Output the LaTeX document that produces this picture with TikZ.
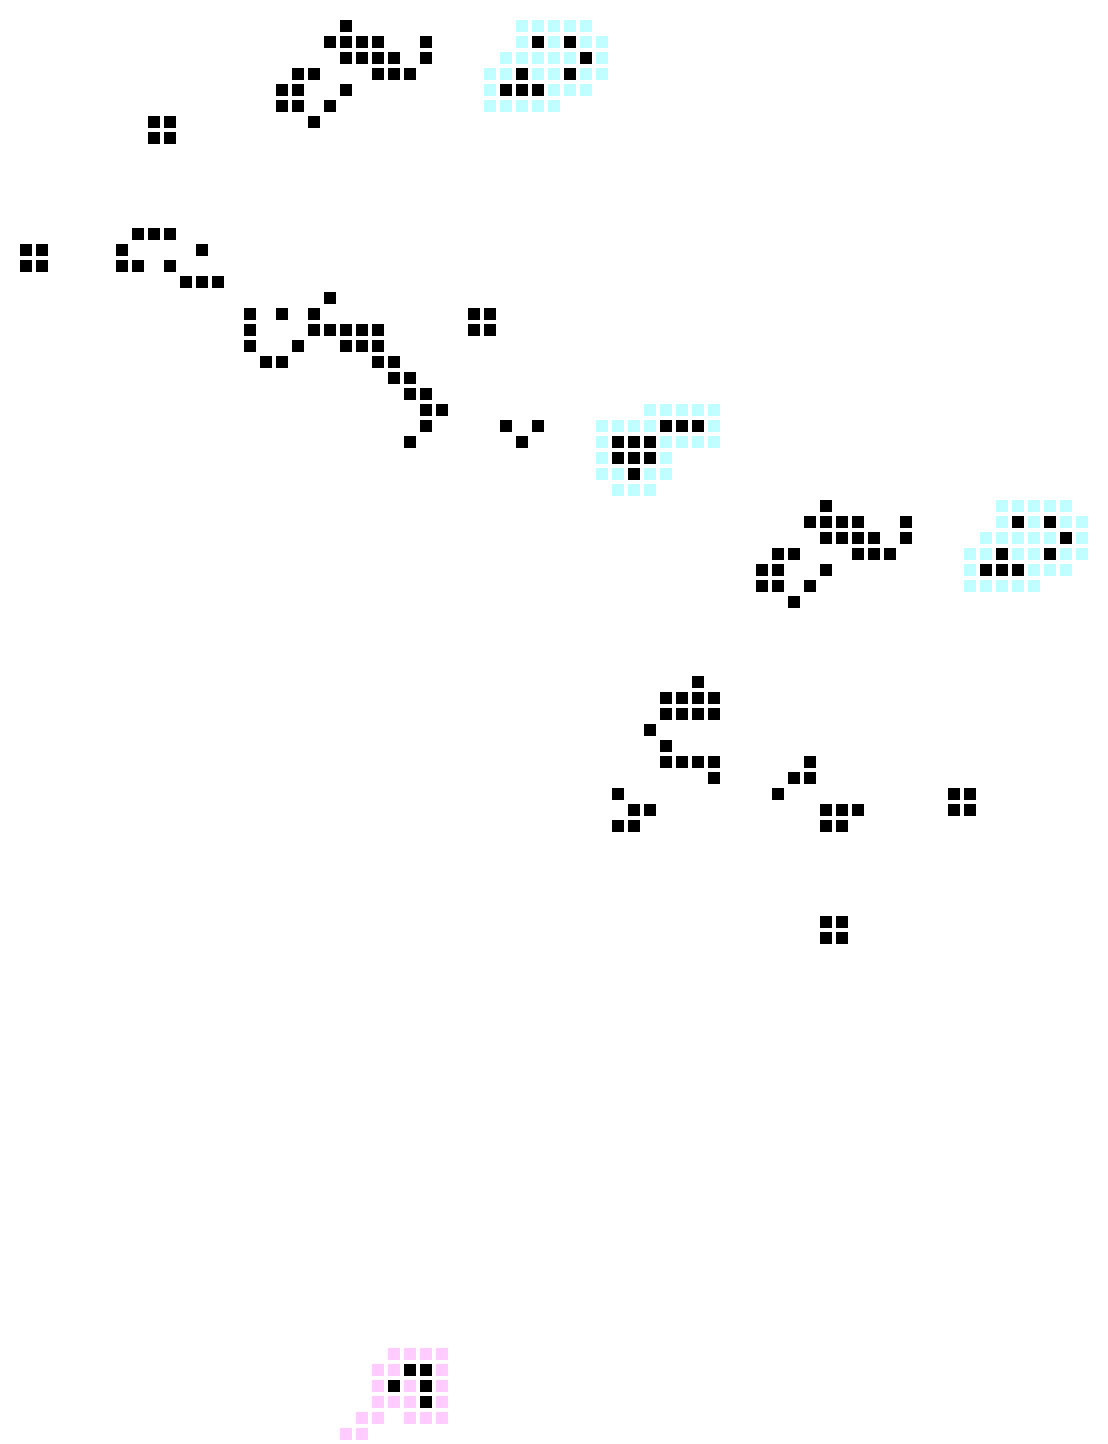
\documentclass[tikz,border=0pt]{standalone}
\usepackage{xcolor}
\usepackage{tikz}
\definecolor{halocyan}{RGB}{192,255,255}
\definecolor{halopink}{RGB}{255,204,255}
\tikzset{
live/.style={
fill=black
},
cyanhalo/.style={
fill=halocyan
},
pinkhalo/.style={
fill=halopink
}
}
\newcommand{\lifecell}[3]{\fill[#1] (#2+0.25,#3+0.25) rectangle ++(0.75,0.75);}

\begin{document}
\begin{tikzpicture}[x=0.4cm,y=-0.4cm]

\useasboundingbox (0,0) rectangle (69.25,90.25);

% gun with its glider halo, twice
\foreach \d in {0,30}{
\begin{scope}[shift={(\d,\d)}]
\foreach \r/\cs in {1/{32,33,34,35,36},2/{32,34,36,37},3/{31,32,33,34,35,37},
4/{30,31,33,34,36,37},5/{30,34,35,36},6/{30,31,32,33,34}}
{\foreach \c in \cs {\lifecell{cyanhalo}{\c}{\r}}}
\foreach \r/\cs in {1/{21},2/{20,21,22,23,26,33,35},3/{21,22,23,24,26,36},
4/{18,19,23,24,25,32,35},5/{17,18,21,31,32,33},6/{17,18,20},7/{19}}
{\foreach \c in \cs {\lifecell{live}{\c}{\r}}}
\end{scope}
}

% second halo
\foreach \r/\cs in {25/{40,41,42,43,44},26/{37,38,39,40,44},27/{37,41,42,43,44},
28/{37,41},29/{37,38,40,41},30/{38,39,40}}
{\foreach \c in \cs {\lifecell{cyanhalo}{\c}{\r}}}

% pink halo
\foreach \r/\cs in {84/{24,25,26,27},85/{23,24,27},86/{23,25,27},
87/{23,24,25,27},88/{22,23,25,26,27},89/{21,22}}
{\foreach \c in \cs {\lifecell{pinkhalo}{\c}{\r}}}

% remaining live cells
\foreach \r/\cs in {7/{9,10},8/{9,10},14/{8,9,10},15/{1,2,7,12},16/{1,2,7,8,10},
17/{11,12,13},18/{20},19/{15,17,19,29,30},20/{15,19,20,21,22,23,29,30},
21/{15,18,21,22,23},22/{16,17,23,24},23/{24,25},24/{25,26},
25/{26,27},26/{26,31,33,41,42,43},27/{25,32,38,39,40},28/{38,39,40},29/{39},
42/{43},43/{41,42,43,44},44/{41,42,43,44},45/{40},46/{41},
47/{41,42,43,44,50},48/{44,49,50},49/{38,48,59,60},50/{39,40,51,52,53,59,60},
51/{38,39,51,52},57/{51,52},58/{51,52},
85/{25,26},86/{24,26},87/{26}}
{\foreach \c in \cs {\lifecell{live}{\c}{\r}}}

\end{tikzpicture}
\end{document}
